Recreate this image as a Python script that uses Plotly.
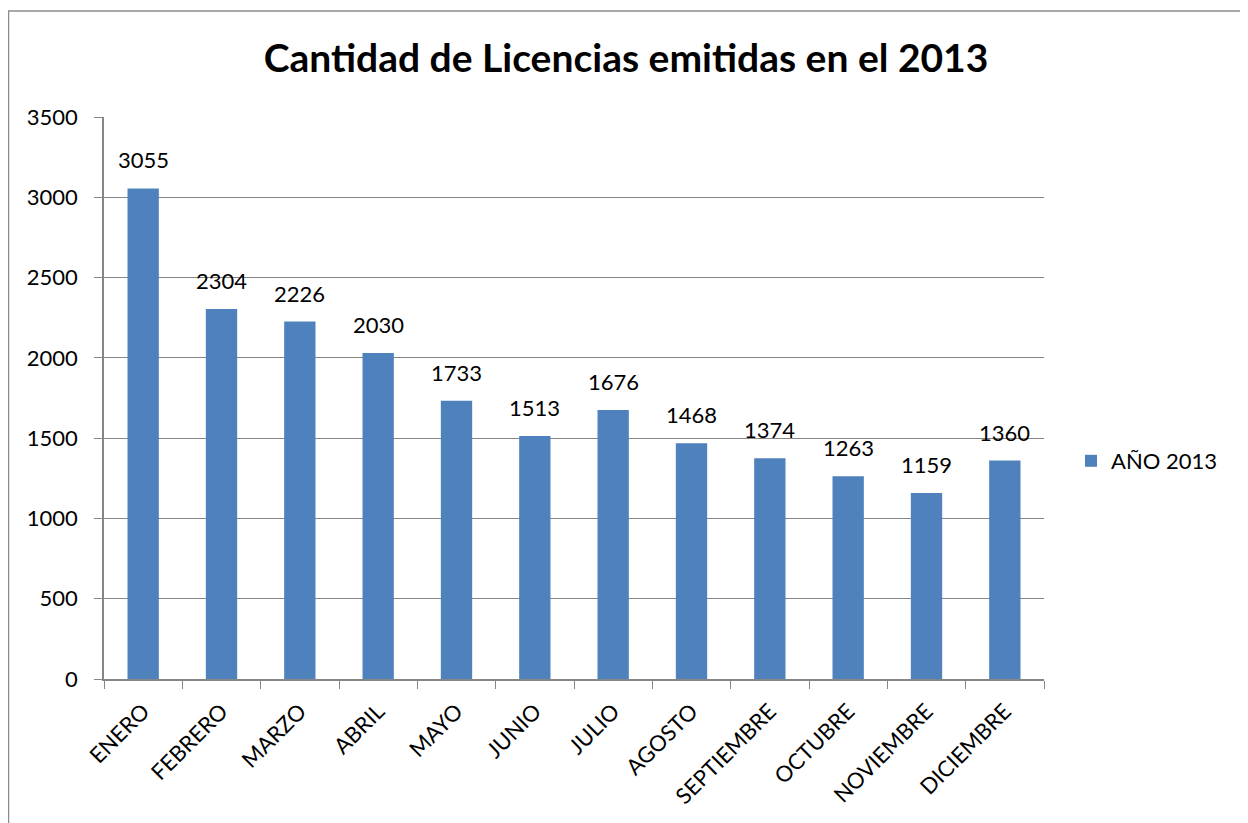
import plotly.graph_objects as go

months = ["ENERO", "FEBRERO", "MARZO", "ABRIL", "MAYO", "JUNIO", "JULIO",
          "AGOSTO", "SEPTIEMBRE", "OCTUBRE", "NOVIEMBRE", "DICIEMBRE"]
licencias = [3055, 2304, 2226, 2030, 1733, 1513, 1676, 1468, 1374, 1263, 1159, 1360]
y_ticks = [0, 500, 1000, 1500, 2000, 2500, 3000, 3500]
series_name = "AÑO 2013"
title_text = "Cantidad de Licencias emitidas en el 2013"

FONT = "Lato, Open Sans, sans-serif"
BAR = "#4F81BD"
GRID = "#868686"

# page body has an 8px margin; work in figure coordinates = screen - 8
OFF = 8
W, H = 1248 - OFF, 823 - OFF
L, R, T, B = 104 - OFF, 1044 - OFF, 117 - OFF, 679 - OFF

def px_x(p):
    return (p - OFF - L) / (R - L)

def px_y(p):
    return (B - (p - OFF)) / (B - T)

fig = go.Figure()
fig.add_trace(go.Bar(
    x=months, y=licencias, name=series_name,
    marker=dict(color=BAR, line=dict(width=0)),
    showlegend=True,
))

annotations = [
    dict(x=m, y=v, xref="x", yref="y", text=str(v), showarrow=False,
         yanchor="bottom", yshift=13, font=dict(family=FONT, size=22, color="black"))
    for m, v in zip(months, licencias)
]

shapes = [
    dict(type="line", xref="paper", yref="paper", x0=px_x(8.5), x1=px_x(8.5), y0=px_y(11), y1=px_y(830),
         line=dict(color="#8c8c8c", width=1.5)),
    dict(type="line", xref="paper", yref="paper", x0=px_x(8), x1=px_x(1243), y0=px_y(11), y1=px_y(11),
         line=dict(color="#8c8c8c", width=1.5)),
    dict(type="line", xref="paper", yref="paper", x0=px_x(1243), x1=px_x(1243), y0=px_y(11), y1=px_y(830),
         line=dict(color="#8c8c8c", width=2.5)),
]

fig.update_layout(
    width=W, height=H,
    margin=dict(l=L, r=W - R, t=T, b=H - B, pad=0),
    paper_bgcolor="white", plot_bgcolor="white",
    bargap=0.6,
    title=dict(text="<b>" + title_text + "</b>", x=px_x(626), xanchor="center",
               y=1 - (58 - OFF) / H, yanchor="middle", xref="paper",
               font=dict(family=FONT, size=39, color="black")),
    legend=dict(x=px_x(1071), xanchor="left", y=px_y(461), yanchor="middle",
                font=dict(family=FONT, size=22, color="black"),
                itemwidth=30, bgcolor="rgba(0,0,0,0)", traceorder="normal"),
    annotations=annotations,
    shapes=shapes,
    font=dict(family=FONT, color="black"),
)

fig.update_xaxes(
    type="category", tickangle=-45, tickson="boundaries",
    ticks="outside", ticklen=8, tickcolor=GRID,
    showline=True, linecolor=GRID, linewidth=1.5,
    showgrid=False, ticklabelstandoff=9,
    tickfont=dict(family=FONT, size=22, color="black"),
)
fig.update_yaxes(
    range=[0, 3500], tickvals=y_ticks, ticktext=[str(t) for t in y_ticks],
    ticks="outside", ticklen=8, tickcolor=GRID,
    showline=True, linecolor=GRID, linewidth=1.5,
    showgrid=True, gridcolor=GRID, gridwidth=1,
    zeroline=False, ticklabelstandoff=12,
    tickfont=dict(family=FONT, size=22, color="black"),
)

fig.write_html("out.html")
